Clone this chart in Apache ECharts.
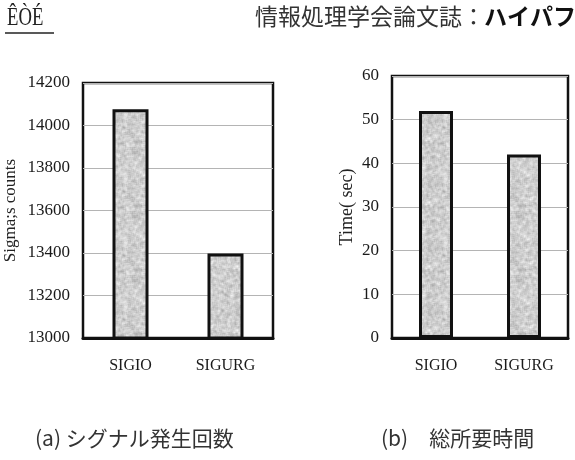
<!DOCTYPE html>
<html>
<head>
<meta charset="utf-8">
<script src="https://cdn.jsdelivr.net/npm/echarts@6/dist/echarts.min.js"></script>
<style>
html,body{margin:0;padding:0;background:#fff;}
#c{width:575px;height:460px;}
</style>
</head>
<body>
<div id="c"></div>
<script>
// ---- data ----
var categories = ['SIGIO', 'SIGURG'];
var signalCounts = [14076, 13398];
var totalTimes = [52, 42];
var countTicks = {min: 13000, max: 14200, interval: 200};
var timeTicks = {min: 0, max: 60, interval: 10};
var headerLeft = 'ÊÒÉ';
var headerRight = '情報処理学会論文誌';
var headerColon = '：';
var headerBold = 'ハイパフ';
var captionA = '(a) シグナル発生回数';
var captionB = '(b)　総所要時間';
var yNameA = 'Sigma;s counts';
var yNameB = 'Time( sec)';

// speckled gray texture for bars (deterministic)
function makeTexture() {
  var s = 64, cv = document.createElement('canvas');
  cv.width = s; cv.height = s;
  var ctx = cv.getContext('2d');
  var img = ctx.createImageData(s, s);
  var raw = [];
  for (var y = 0; y < s; y++) {
    for (var x = 0; x < s; x++) {
      var h = Math.sin(x * 12.9898 + y * 78.233) * 43758.5453;
      raw.push(h - Math.floor(h));
    }
  }
  for (var y2 = 0; y2 < s; y2++) {
    for (var x2 = 0; x2 < s; x2++) {
      var acc = 0;
      for (var dy = -1; dy <= 1; dy++) for (var dx = -1; dx <= 1; dx++) {
        acc += raw[((y2 + dy + s) % s) * s + ((x2 + dx + s) % s)];
      }
      acc = acc / 9;
      var v = Math.round(205 + (acc - 0.5) * 110);
      var i = (y2 * s + x2) * 4;
      img.data[i] = v; img.data[i + 1] = v; img.data[i + 2] = v; img.data[i + 3] = 255;
    }
  }
  ctx.putImageData(img, 0, 0);
  return cv;
}
var tex = makeTexture();

var serif = '"Liberation Serif", "DejaVu Serif", serif';
var cjk = '"Noto Sans CJK JP", sans-serif';

var chart = echarts.init(document.getElementById('c'));
function yAxisCfg(idx, t, name, gap, nsize) {
  return {
    type: 'value', gridIndex: idx, min: t.min, max: t.max, interval: t.interval,
    name: name, nameLocation: 'middle', nameGap: gap, nameRotate: 90,
    nameTextStyle: {fontFamily: serif, fontSize: nsize, color: '#222'},
    axisLine: {show: false}, axisTick: {show: false},
    axisLabel: {fontFamily: serif, fontSize: 17, color: '#1a1a1a', margin: 13,
                formatter: function (v) { return String(v); }},
    splitLine: {show: true, lineStyle: {color: '#b4b4b4', width: 1.2}}
  };
}
function xAxisCfg(idx) {
  return {
    type: 'category', gridIndex: idx, data: categories,
    axisLine: {show: true, lineStyle: {color: '#111', width: 3}},
    axisTick: {show: false},
    axisLabel: {fontFamily: serif, fontSize: 16, color: '#1a1a1a', margin: 20}
  };
}
chart.setOption({
  animation: false,
  backgroundColor: '#fff',
  grid: [
    {left: 83, top: 83, width: 190, height: 255, show: true, borderColor: '#111', borderWidth: 2.5, backgroundColor: 'transparent'},
    {left: 392, top: 76, width: 176, height: 262, show: true, borderColor: '#111', borderWidth: 2.5, backgroundColor: 'transparent'}
  ],
  xAxis: [xAxisCfg(0), xAxisCfg(1)],
  yAxis: [yAxisCfg(0, countTicks, yNameA, 64, 17), yAxisCfg(1, timeTicks, yNameB, 36, 18)],
  series: [
    {type: 'bar', xAxisIndex: 0, yAxisIndex: 0, data: signalCounts, barWidth: 36,
     itemStyle: {color: {image: tex, repeat: 'repeat'}, borderColor: '#111', borderWidth: 3}},
    {type: 'bar', xAxisIndex: 1, yAxisIndex: 1, data: totalTimes, barWidth: 34,
     itemStyle: {color: {image: tex, repeat: 'repeat'}, borderColor: '#111', borderWidth: 3}}
  ],
  graphic: [
    {type: 'text', x: 7, y: 5, scaleX: 0.72, style: {text: headerLeft, font: '26px ' + serif, fill: '#222'}},
    {type: 'line', shape: {x1: 5, y1: 33, x2: 54, y2: 33}, style: {stroke: '#222', lineWidth: 1.5}},
    {type: 'text', left: 255, top: 5, style: {text: headerRight, font: '23px ' + cjk, fill: '#333'}},
    {type: 'text', left: 462, top: 5, style: {text: headerColon, font: '23px ' + cjk, fill: '#333'}},
    {type: 'text', left: 484, top: 5, style: {text: headerBold, font: 'bold 23px ' + cjk, fill: '#111'}},
    {type: 'text', left: 35, top: 428, style: {text: captionA, font: '21px ' + cjk, fill: '#333'}},
    {type: 'text', left: 381, top: 428, style: {text: captionB, font: '21px ' + cjk, fill: '#333'}}
  ]
});
</script>
</body>
</html>
